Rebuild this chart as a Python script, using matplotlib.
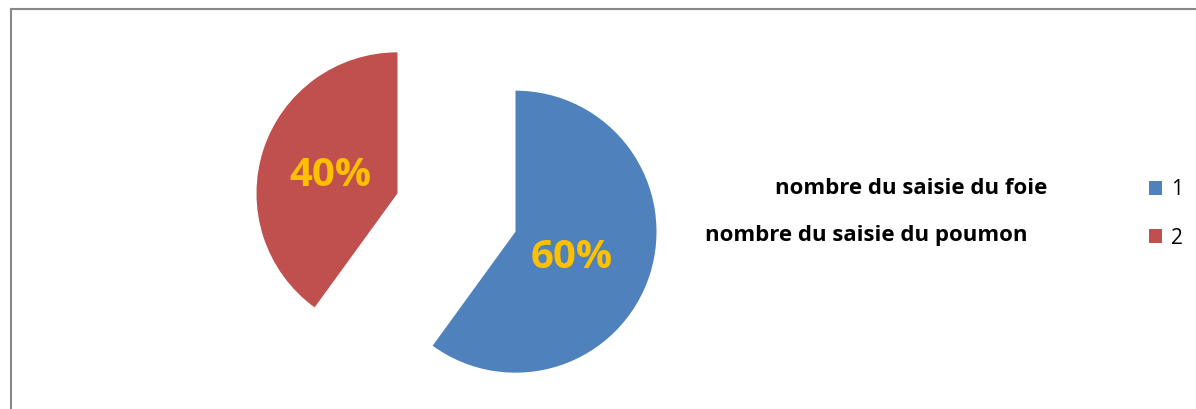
import matplotlib
matplotlib.use("Agg")
import matplotlib.pyplot as plt
from matplotlib.lines import Line2D

plt.rcParams['font.family'] = ['Open Sans', 'DejaVu Sans']

# data
labels = ['1', '2']
values = [60, 40]
colors = ['#4F81BD', '#C0504D']
series_names = ['nombre du saisie du foie', 'nombre du saisie du poumon']

W, H = 1196, 409
fig = plt.figure(figsize=(W / 100, H / 100), dpi=100)
ax = fig.add_axes([0, 0, 1, 1])

R = 141.0  # pie radius in pixels
cx, cy = 456.5, H - 212.5
wedges, texts, autotexts = ax.pie(
    values, colors=colors, startangle=90, counterclock=False,
    explode=[0.44, 0.44], autopct='%1.0f%%', pctdistance=0.47,
    textprops=dict(color='#FFC000', fontsize=29, fontweight='bold'),
    wedgeprops=dict(linewidth=0))
# nudge the percent labels a little, as in the original
for t, (dx, dy) in zip(autotexts, [(-7, -5), (-4, -3)]):
    x, y = t.get_position()
    t.set_position((x + dx / R, y + dy / R))
ax.set_xlim(-cx / R, (W - cx) / R)
ax.set_ylim(-cy / R, (H - cy) / R)
ax.set_aspect('auto')
ax.axis('off')

ax.legend(wedges, labels, loc='center left', frameon=False,
          bbox_to_anchor=(1149 / W, 1 - 214 / H), bbox_transform=fig.transFigure,
          borderpad=0, borderaxespad=0, fontsize=15, labelspacing=1.3,
          handlelength=0.62, handleheight=0.62, handletextpad=0.45)

fig.text(775 / W, 1 - 188 / H, series_names[0], fontsize=16, fontweight='bold',
         ha='left', va='center')
fig.text(705 / W, 1 - 235 / H, series_names[1], fontsize=16, fontweight='bold',
         ha='left', va='center')

# chart frame (top and left edges visible)
x0, y0 = 10.5 / W, 1 - 9 / H
fig.add_artist(Line2D([x0, 1], [y0, y0], color='#888888', lw=1.5, transform=fig.transFigure))
fig.add_artist(Line2D([x0, x0], [0, y0], color='#888888', lw=1.5, transform=fig.transFigure))

fig.savefig('out.png', dpi=100)
